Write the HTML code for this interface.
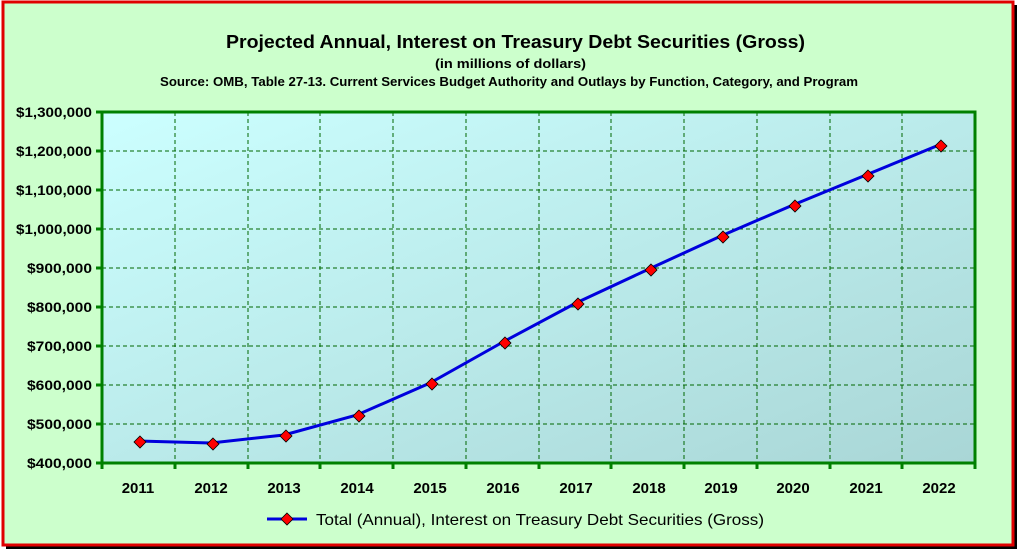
<!DOCTYPE html><html><head><style>body{margin:0;background:#fff}</style></head><body>
<svg width="1020" height="553" xmlns="http://www.w3.org/2000/svg" font-family="Liberation Sans, Arial, sans-serif">
<defs><linearGradient id="g" x1="0" y1="0" x2="1" y2="1"><stop offset="0" stop-color="#ccffff"/><stop offset="1" stop-color="#a9d6d6"/></linearGradient></defs>
<rect x="6" y="5" width="1011" height="544" fill="#000"/>
<rect x="3" y="2" width="1010" height="543" fill="#ccffcc" stroke="#e00000" stroke-width="3"/>
<text x="226" y="48" font-size="18" font-weight="bold" textLength="579" lengthAdjust="spacingAndGlyphs">Projected Annual, Interest on Treasury Debt Securities (Gross)</text>
<text x="435" y="68" font-size="13" font-weight="bold" textLength="151" lengthAdjust="spacingAndGlyphs">(in millions of dollars)</text>
<text x="160" y="86" font-size="13" font-weight="bold" textLength="698" lengthAdjust="spacingAndGlyphs">Source: OMB, Table 27-13. Current Services Budget Authority and Outlays by Function, Category, and Program</text>
<rect x="102" y="112" width="873" height="351" fill="url(#g)"/>
<g stroke="#006600" stroke-dasharray="4,3" stroke-width="1">
<path d="M102 151H975M102 190H975M102 229H975M102 268H975M102 307H975M102 346H975M102 385H975M102 424H975"/>
<path d="M175 112V463M248 112V463M320 112V463M393 112V463M466 112V463M539 112V463M611 112V463M684 112V463M757 112V463M830 112V463M902 112V463"/>
</g>
<rect x="102" y="112" width="873" height="351" fill="none" stroke="#008000" stroke-width="3"/>
<g stroke="#008000" stroke-width="3">
<path d="M96 112H102M96 151H102M96 190H102M96 229H102M96 268H102M96 307H102M96 346H102M96 385H102M96 424H102M96 463H102"/>
<path d="M102 463V469M175 463V469M248 463V469M320 463V469M393 463V469M466 463V469M539 463V469M611 463V469M684 463V469M757 463V469M830 463V469M902 463V469M975 463V469"/>
</g>
<g font-size="14" font-weight="bold" text-anchor="end">
<text x="92" y="117" textLength="76" lengthAdjust="spacingAndGlyphs">$1,300,000</text><text x="92" y="156" textLength="76" lengthAdjust="spacingAndGlyphs">$1,200,000</text><text x="92" y="195" textLength="76" lengthAdjust="spacingAndGlyphs">$1,100,000</text><text x="92" y="234" textLength="76" lengthAdjust="spacingAndGlyphs">$1,000,000</text><text x="92" y="273" textLength="65" lengthAdjust="spacingAndGlyphs">$900,000</text><text x="92" y="312" textLength="65" lengthAdjust="spacingAndGlyphs">$800,000</text><text x="92" y="351" textLength="65" lengthAdjust="spacingAndGlyphs">$700,000</text><text x="92" y="390" textLength="65" lengthAdjust="spacingAndGlyphs">$600,000</text><text x="92" y="429" textLength="65" lengthAdjust="spacingAndGlyphs">$500,000</text><text x="92" y="468" textLength="65" lengthAdjust="spacingAndGlyphs">$400,000</text>
</g>
<g font-size="15" font-weight="bold" text-anchor="middle">
<text x="138" y="493">2011</text><text x="211" y="493">2012</text><text x="284" y="493">2013</text><text x="357" y="493">2014</text><text x="430" y="493">2015</text><text x="503" y="493">2016</text><text x="576" y="493">2017</text><text x="649" y="493">2018</text><text x="721" y="493">2019</text><text x="793" y="493">2020</text><text x="866" y="493">2021</text><text x="939" y="493">2022</text>
</g>
<polyline fill="none" stroke="#0000dd" stroke-width="3" points="138,441 211,443 284,435 357,415 430,383 503,342 576,303 649,269 721,236 793,205 866,175 939,145"/>
<g fill="#ff0000" stroke="#000" stroke-width="0.8">
<path d="M140,436l6,6l-6,6l-6,-6z"/><path d="M213,438l6,6l-6,6l-6,-6z"/><path d="M286,430l6,6l-6,6l-6,-6z"/><path d="M359,410l6,6l-6,6l-6,-6z"/><path d="M432,378l6,6l-6,6l-6,-6z"/><path d="M505,337l6,6l-6,6l-6,-6z"/><path d="M578,298l6,6l-6,6l-6,-6z"/><path d="M651,264l6,6l-6,6l-6,-6z"/><path d="M723,231l6,6l-6,6l-6,-6z"/><path d="M795,200l6,6l-6,6l-6,-6z"/><path d="M868,170l6,6l-6,6l-6,-6z"/><path d="M941,140l6,6l-6,6l-6,-6z"/>
</g>
<line x1="267" y1="519" x2="307" y2="519" stroke="#0000dd" stroke-width="3"/>
<path d="M287,513l6,6l-6,6l-6,-6z" fill="#ff0000" stroke="#000" stroke-width="0.8"/>
<text x="316" y="525" font-size="16" textLength="448" lengthAdjust="spacingAndGlyphs">Total (Annual), Interest on Treasury Debt Securities (Gross)</text>
</svg>
</body></html>
